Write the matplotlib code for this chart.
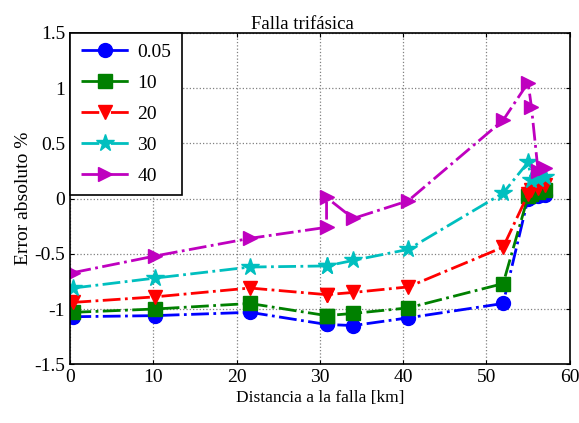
import matplotlib
matplotlib.use('Agg')
import matplotlib.pyplot as plt

plt.rcParams['font.family'] = ['Liberation Serif', 'DejaVu Serif']
plt.rcParams['mathtext.fontset'] = 'stix'

# distance to the fault [km]
distancia = [0.4, 10.2, 21.6, 30.8, 30.8, 34.0, 40.6, 52.0, 55.0, 55.4, 56.2, 57.0]

err_005 = [-1.07, -1.06, -1.03, -1.14, -1.14, -1.15, -1.08, -0.95, 0.00, 0.01, 0.02, 0.03]
err_10 = [-1.03, -1.00, -0.95, -1.06, -1.06, -1.04, -0.99, -0.77, 0.02, 0.04, 0.06, 0.08]
err_20 = [-0.94, -0.89, -0.81, -0.87, -0.87, -0.85, -0.80, -0.44, 0.04, 0.08, 0.10, 0.12]
err_30 = [-0.81, -0.72, -0.62, -0.61, -0.61, -0.56, -0.46, 0.05, 0.33, 0.17, 0.18, 0.20]
err_40 = [-0.67, -0.52, -0.36, -0.26, 0.01, -0.18, -0.02, 0.71, 1.05, 0.83, 0.25, 0.28]

series = [
    ('0.05', err_005, 'b', 'o'),
    ('10', err_10, 'g', 's'),
    ('20', err_20, 'r', 'v'),
    ('30', err_30, 'c', '*'),
    ('40', err_40, 'm', '>'),
]

fig = plt.figure(figsize=(5.79, 4.23), dpi=100)
ax = fig.add_axes([0.121, 0.139, 0.863, 0.783])

for label, vals, color, marker in series:
    ms = 13 if marker == '*' else 10
    ax.plot(distancia, vals, linestyle='-.', color=color, linewidth=2,
            marker=marker, markersize=ms, label=label)

ax.set_xlim(0, 60)
ax.set_ylim(-1.5, 1.5)
ax.set_xticks(range(0, 61, 10))
ax.set_yticks([-1.5, -1, -0.5, 0, 0.5, 1, 1.5])
ax.set_yticklabels(['-1.5', '-1', '-0.5', '0', '0.5', '1', '1.5'])
ax.grid(True, color='gray', linestyle=':', linewidth=0.9)
ax.tick_params(direction='in', top=True, right=True, labelsize=14, length=3)
for sp in ax.spines.values():
    sp.set_linewidth(1.2)

ax.set_title('Falla trifásica', fontsize=13.5, pad=3, x=0.465)
ax.set_xlabel('Distancia a la falla [km]', fontsize=12.5, labelpad=3)
ax.set_ylabel('Error absoluto %', fontsize=14, labelpad=2)

leg = ax.legend(loc='upper left', fontsize=14, handlelength=2.5, borderaxespad=0,
                fancybox=False, framealpha=1, edgecolor='black',
                labelspacing=0.68, borderpad=0.55, handletextpad=0.4)
leg.get_frame().set_linewidth(1.2)

fig.savefig('out.png', dpi=100)
